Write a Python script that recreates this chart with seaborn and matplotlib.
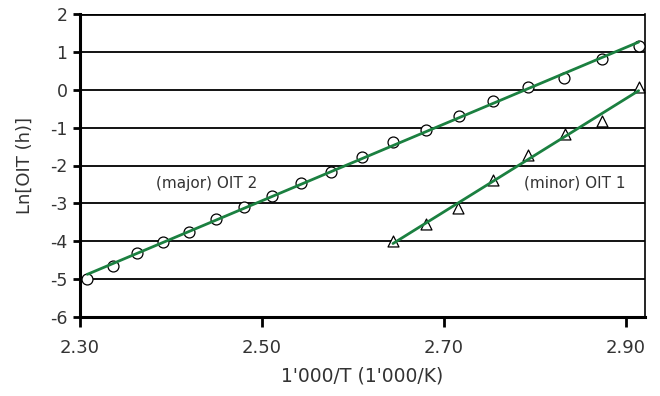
import numpy as np
import pandas as pd
import seaborn as sns
import matplotlib
matplotlib.use("Agg")
import matplotlib.pyplot as plt

# Data
major_x = [2.308, 2.336, 2.363, 2.391, 2.420, 2.450, 2.480, 2.511, 2.543, 2.576,
           2.610, 2.644, 2.680, 2.717, 2.754, 2.792, 2.832, 2.874, 2.914]
major_y = [-5.00, -4.65, -4.31, -4.02, -3.75, -3.42, -3.10, -2.80, -2.46, -2.16,
           -1.78, -1.39, -1.05, -0.69, -0.30, 0.07, 0.32, 0.80, 1.16]
minor_x = [2.644, 2.680, 2.716, 2.754, 2.792, 2.833, 2.874, 2.914]
minor_y = [-3.99, -3.55, -3.13, -2.39, -1.73, -1.16, -0.82, 0.06]
x_ticks = [2.30, 2.50, 2.70, 2.90]
x_tick_labels = ["2.30", "2.50", "2.70", "2.90"]
y_ticks = [2, 1, 0, -1, -2, -3, -4, -5, -6]

major = pd.DataFrame({"x": major_x, "y": major_y})
minor = pd.DataFrame({"x": minor_x, "y": minor_y})

sns.set_theme(style="white")
plt.rcParams["font.family"] = ["DejaVu Sans"]

fig = plt.figure(figsize=(6.6, 3.96), dpi=100)
ax = fig.add_axes([80 / 660, 1 - 317 / 396, (645 - 80) / 660, (317 - 14) / 396])

green = "#1b8040"
text_col = "#333333"

for yv in y_ticks:
    ax.axhline(yv, color="black", lw=1.3 if yv != 2 else 2.0, zorder=1)

sns.scatterplot(data=major, x="x", y="y", marker="o", s=62, facecolor="white",
                edgecolor="black", linewidth=0.9, ax=ax, zorder=3)
sns.scatterplot(data=minor, x="x", y="y", marker="^", s=62, facecolor="white",
                edgecolor="black", linewidth=0.9, ax=ax, zorder=3)
sns.regplot(data=major, x="x", y="y", scatter=False, ci=None, truncate=True,
            color=green, line_kws={"lw": 2.0, "zorder": 4}, ax=ax)
sns.regplot(data=minor, x="x", y="y", scatter=False, ci=None, truncate=True,
            color=green, line_kws={"lw": 2.0, "zorder": 4}, ax=ax)

ax.set_xlim(2.30, 2.921)
ax.set_ylim(-6, 2)
ax.set_xticks(x_ticks)
ax.set_xticklabels(x_tick_labels)
ax.set_yticks(y_ticks)
ax.set_yticklabels([str(v) for v in y_ticks])

for side in ["left", "bottom"]:
    ax.spines[side].set_linewidth(2.2)
    ax.spines[side].set_color("black")
ax.spines["right"].set_linewidth(1.2)
ax.spines["right"].set_color("black")
ax.spines["top"].set_visible(False)

ax.tick_params(axis="y", direction="out", length=5, width=2, color="black",
               labelsize=12.5, labelcolor=text_col, pad=4, left=True)
ax.tick_params(axis="x", direction="out", length=7, width=2, color="black",
               labelsize=13, labelcolor=text_col, pad=9, bottom=True)

ax.set_xlabel("1'000/T (1'000/K)", fontsize=13.5, color=text_col, labelpad=7)
ax.set_ylabel("Ln[OIT (h)]", fontsize=13, color=text_col, labelpad=12)

ax.text(2.384, -2.47, "(major) OIT 2", fontsize=11, color=text_col, va="center", ha="left")
ax.text(2.788, -2.47, "(minor) OIT 1", fontsize=11, color=text_col, va="center", ha="left")

fig.savefig("out.png", dpi=100)
